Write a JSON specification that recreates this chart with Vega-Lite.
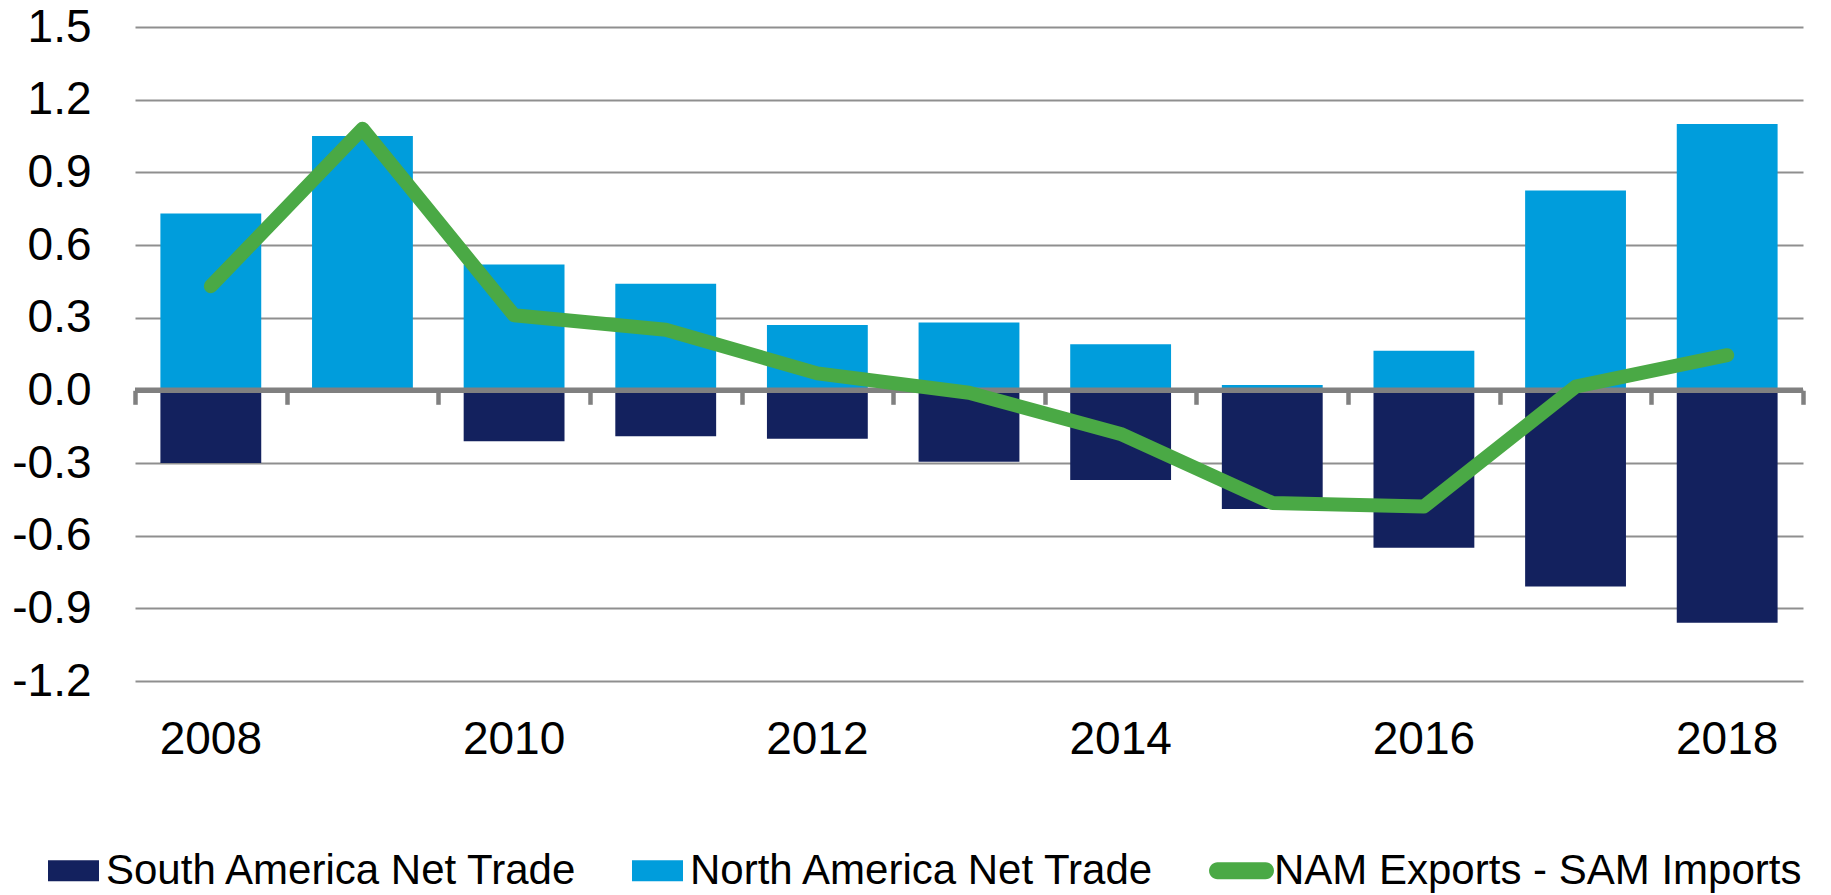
{
  "$schema": "https://vega.github.io/schema/vega-lite/v6.json",
  "width": 1668,
  "height": 654,
  "autosize": {"type": "none"},
  "padding": {"left": 135, "top": 27, "right": 28, "bottom": 214},
  "config": {"view": {"stroke": null}, "font": "Liberation Sans"},
  "resolve": {"scale": {"x": "independent"}, "axis": {"x": "independent"}},
  "datasets": {
    "bars": [
      {"year": 2008, "series": "South America Net Trade", "value": -0.30},
      {"year": 2008, "series": "North America Net Trade", "value": 0.73},
      {"year": 2009, "series": "South America Net Trade", "value": 0},
      {"year": 2009, "series": "North America Net Trade", "value": 1.05},
      {"year": 2010, "series": "South America Net Trade", "value": -0.21},
      {"year": 2010, "series": "North America Net Trade", "value": 0.52},
      {"year": 2011, "series": "South America Net Trade", "value": -0.19},
      {"year": 2011, "series": "North America Net Trade", "value": 0.44},
      {"year": 2012, "series": "South America Net Trade", "value": -0.20},
      {"year": 2012, "series": "North America Net Trade", "value": 0.27},
      {"year": 2013, "series": "South America Net Trade", "value": -0.295},
      {"year": 2013, "series": "North America Net Trade", "value": 0.28},
      {"year": 2014, "series": "South America Net Trade", "value": -0.37},
      {"year": 2014, "series": "North America Net Trade", "value": 0.19},
      {"year": 2015, "series": "South America Net Trade", "value": -0.49},
      {"year": 2015, "series": "North America Net Trade", "value": 0.022},
      {"year": 2016, "series": "South America Net Trade", "value": -0.65},
      {"year": 2016, "series": "North America Net Trade", "value": 0.163},
      {"year": 2017, "series": "South America Net Trade", "value": -0.81},
      {"year": 2017, "series": "North America Net Trade", "value": 0.825},
      {"year": 2018, "series": "South America Net Trade", "value": -0.96},
      {"year": 2018, "series": "North America Net Trade", "value": 1.10}
    ],
    "line": [
      {"year": 2008, "value": 0.43},
      {"year": 2009, "value": 1.08},
      {"year": 2010, "value": 0.31},
      {"year": 2011, "value": 0.25},
      {"year": 2012, "value": 0.07},
      {"year": 2013, "value": -0.01},
      {"year": 2014, "value": -0.18},
      {"year": 2015, "value": -0.465},
      {"year": 2016, "value": -0.48},
      {"year": 2017, "value": 0.015},
      {"year": 2018, "value": 0.145}
    ]
  },
  "layer": [
    {
      "data": {"name": "bars"},
      "mark": {"type": "bar"},
      "encoding": {
        "x": {
          "field": "year", "type": "ordinal",
          "scale": {"paddingInner": 0.335, "paddingOuter": 0.1675},
          "axis": {
            "orient": "bottom", "values": [2008, 2010, 2012, 2014, 2016, 2018],
            "ticks": false, "tickSize": 0, "domain": false, "grid": false,
            "labelAngle": 0, "labelFontSize": 46, "labelPadding": 36,
            "labelColor": "#000000", "title": null
          }
        },
        "y": {
          "field": "value", "type": "quantitative", "stack": null,
          "scale": {"domain": [-1.2, 1.5], "nice": false, "zero": false},
          "axis": {
            "values": [-1.2, -0.9, -0.6, -0.3, 0, 0.3, 0.6, 0.9, 1.2, 1.5],
            "labelExpr": "replace(format(datum.value, '.1f'), '−', '-')",
            "ticks": false, "tickSize": 0, "domain": false, "grid": true,
            "gridColor": "#8f8f8f", "gridWidth": 2,
            "labelFontSize": 46, "labelPadding": 44, "labelColor": "#000000",
            "title": null
          }
        },
        "color": {
          "field": "series", "type": "nominal",
          "scale": {
            "domain": ["South America Net Trade", "North America Net Trade", "NAM Exports - SAM Imports"],
            "range": ["#13215E", "#009DDC", "#4AA945"]
          },
          "legend": {
            "orient": "none", "legendX": -88, "legendY": 817,
            "direction": "horizontal", "title": null,
            "labelFontSize": 42, "labelColor": "#000000", "labelLimit": 1000,
            "symbolSize": 2601, "labelOffset": 6, "columnPadding": 50, "padding": 0,
            "encode": {
              "symbols": {
                "update": {
                  "shape": {"signal": "datum.value === 'NAM Exports - SAM Imports' ? 'M-0.94,-0.333H0.94A0.333,0.333,0,0,1,0.94,0.333H-0.94A0.333,0.333,0,0,1,-0.94,-0.333Z' : 'M-1,-0.41H1V0.41H-1Z'"},
                  "fill": {"signal": "scale('color', datum.value)"},
                  "stroke": {"value": "transparent"},
                  "opacity": {"value": 1}
                }
              }
            }
          }
        }
      }
    },
    {
      "data": {"values": [{"zero": 0}]},
      "mark": {"type": "rule", "color": "#808080", "strokeWidth": 5.5},
      "encoding": {"y": {"field": "zero", "type": "quantitative"}}
    },
    {
      "data": {"name": "line"},
      "mark": {"type": "line", "color": "#4AA945", "strokeWidth": 14, "strokeCap": "round", "strokeJoin": "round"},
      "encoding": {
        "x": {
          "field": "year", "type": "ordinal",
          "scale": {"paddingInner": 0, "paddingOuter": 0},
          "axis": {
            "orient": "top", "offset": -363.3, "tickBand": "extent",
            "ticks": true, "tickSize": -14, "tickWidth": 4.5, "tickColor": "#808080",
            "labels": false, "domain": false, "grid": false, "title": null
          }
        },
        "y": {"field": "value", "type": "quantitative"}
      }
    }
  ]
}
